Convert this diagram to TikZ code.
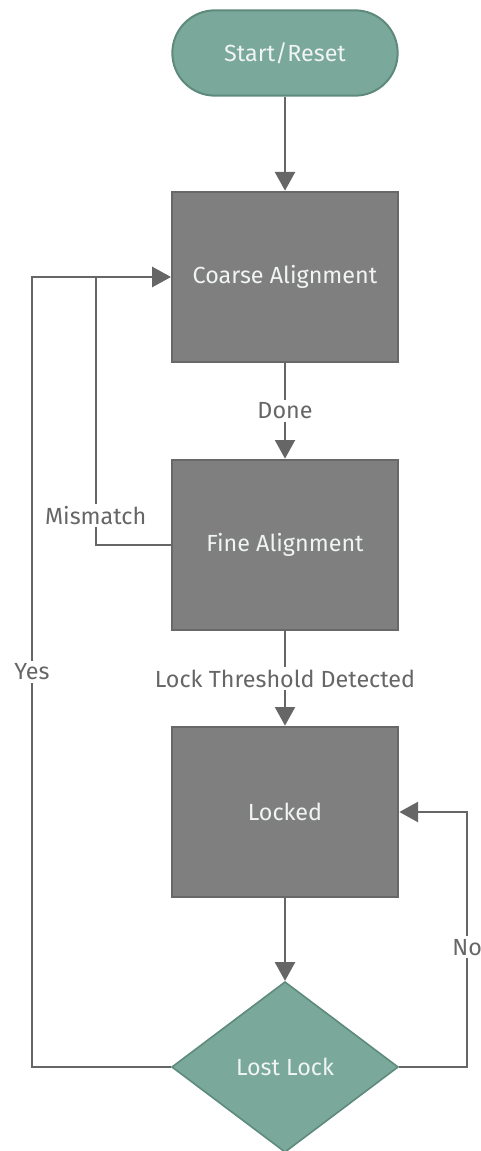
\documentclass[tikz,border=0pt]{standalone}
\usepackage{fontspec}
\setmainfont{Fira Sans}
\usepackage{xcolor}
\usetikzlibrary{shapes.geometric,arrows.meta}

\definecolor{tealfill}{RGB}{122,168,154}
\definecolor{tealedge}{RGB}{94,138,124}
\definecolor{boxfill}{RGB}{127,127,127}
\definecolor{boxedge}{RGB}{104,104,104}
\definecolor{linegray}{RGB}{102,102,102}
\definecolor{boxtext}{RGB}{240,244,242}

\tikzset{
  terminal/.style={draw=tealedge, fill=tealfill, line width=1.5pt, rounded corners=32pt,
    minimum width=169pt, minimum height=64pt, text=boxtext, font=\fontsize{17.5}{20}\selectfont},
  statebox/.style={draw=boxedge, fill=boxfill, line width=1.5pt,
    minimum width=170pt, minimum height=128pt, text=boxtext, font=\fontsize{17.5}{20}\selectfont},
  decision/.style={diamond, draw=tealedge, fill=tealfill, line width=1.2pt, inner sep=0pt,
    minimum width=170pt, minimum height=128pt, text=boxtext, font=\fontsize{17.5}{20}\selectfont},
  flowline/.style={draw=linegray, line width=1.6pt, -{Triangle[length=14pt,width=15pt]}},
  edgelabel/.style={fill=white, text=linegray, inner sep=2pt, font=\fontsize{17.5}{20}\selectfont},
}

\begin{document}
\begin{tikzpicture}[x=0.75pt,y=0.75pt,yscale=-1,xscale=1]
\useasboundingbox (0,0) rectangle (481,1151);

% States
\node [terminal] (start) at (285,53) {Start/Reset};
\node [statebox] (coarse) at (285,277) {Coarse Alignment};
\node [statebox] (fine) at (285,545) {Fine Alignment};
\node [statebox] (locked) at (285,812) {Locked};
\node [decision] (lost) at (285,1067) {Lost Lock};

% Main flow
\draw [flowline] (start) -- (coarse);
\draw [flowline] (coarse) -- node [edgelabel] {Done} (fine);
\draw [flowline] (fine) -- node [edgelabel] {Lock Threshold Detected} (locked);
\draw [flowline] (locked) -- (lost);

% Feedback paths
\draw [flowline] (fine.west) -- ++(-75,0) |- node [edgelabel, pos=0.055] {Mismatch} (coarse.west);
\draw [flowline] (lost.west) -- ++(-139,0) |- node [edgelabel, pos=0.25] {Yes} (coarse.west);
\draw [flowline] (lost.east) -- ++(68,0) |- node [edgelabel, pos=0.235] {No} (locked.east);

\end{tikzpicture}
\end{document}
